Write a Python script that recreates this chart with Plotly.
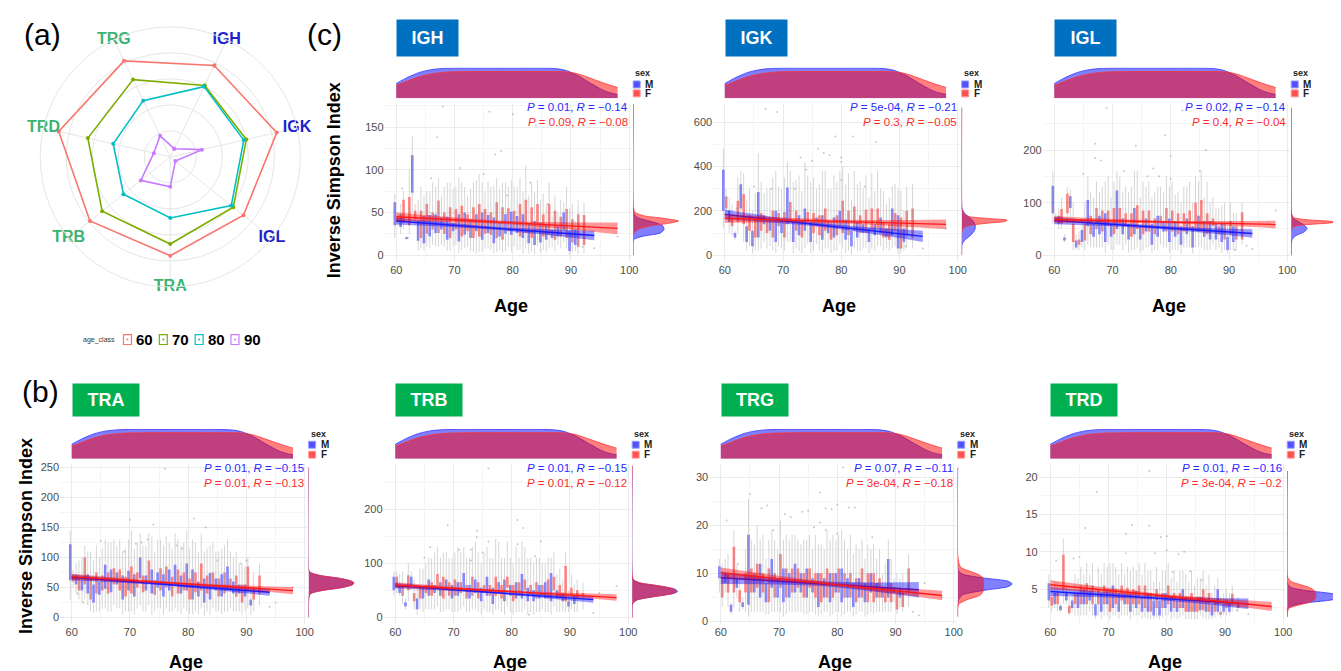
import plotly.graph_objects as go

# ======================= DATA =======================
AGES = list(range(60, 93))

# top marginal: age density (same for all panels), relative units
AGE_GRID = [60, 62, 64, 66, 68, 70, 75, 80, 85, 87, 88, 89, 90, 91, 92, 93, 94, 95, 96, 97, 98]
TOP_M = [0.49, 0.7, 0.86, 0.95, 0.99, 1.0, 1.0, 1.0, 1.0, 0.99, 0.97, 0.93, 0.86, 0.77, 0.66, 0.54, 0.43, 0.32, 0.23, 0.17, 0.13]
TOP_F = [0.43, 0.58, 0.72, 0.81, 0.86, 0.88, 0.89, 0.89, 0.89, 0.89, 0.89, 0.88, 0.86, 0.82, 0.76, 0.69, 0.62, 0.55, 0.48, 0.42, 0.36]

REG_X_M = [60, 77, 94]
REG_X_F = [60, 79, 98]

# radar (a)
RADAR_AXES = ["IGH", "IGK", "IGL", "TRA", "TRB", "TRD", "TRG"]
RADAR_LABEL_COLORS = ["#2222cc", "#2222cc", "#2222cc", "#3cb371", "#3cb371", "#3cb371", "#3cb371"]
RADAR_CLASSES = ["60", "70", "80", "90"]
RADAR_60 = [0.78, 0.84, 0.72, 0.76, 0.79, 0.88, 0.82]
RADAR_70 = [0.61, 0.60, 0.62, 0.67, 0.67, 0.65, 0.66]
RADAR_80 = [0.60, 0.58, 0.60, 0.47, 0.46, 0.45, 0.48]
RADAR_90 = [0.07, 0.25, 0.05, 0.23, 0.29, 0.13, 0.18]

PANEL_NAMES = ["IGH", "IGK", "IGL", "TRA", "TRB", "TRG", "TRD"]
STAT_P_M = ["0.01", "5e-04", "0.02", "0.01", "0.01", "0.07", "0.01"]
STAT_R_M = ["\u22120.14", "\u22120.21", "\u22120.14", "\u22120.15", "\u22120.15", "\u22120.11", "\u22120.16"]
STAT_P_F = ["0.09", "0.3", "0.4", "0.01", "0.01", "3e-04", "3e-04"]
STAT_R_F = ["\u22120.08", "\u22120.05", "\u22120.04", "\u22120.13", "\u22120.12", "\u22120.18", "\u22120.2"]

# ---- IGH ----
IGH_M_Q1 = [35,33,19,73,17,14,22,26,30,18,28,16,24,20,28,18,26,14,22,25,24,26,20,14,12,15,18,20,22,29,5,12,None]
IGH_M_Q3 = [62,48,21,117,40,46,47,48,44,45,38,48,50,42,48,50,47,44,38,48,51,46,48,38,40,38,36,30,34,50,28,30,None]
IGH_M_LO = [20,25,18,50,5,6,8,10,12,5,10,3,8,5,2,4,8,2,6,5,4,6,2,2,1,3,4,10,12,15,0,5,None]
IGH_M_HI = [72,60,22,139,65,70,75,80,70,85,78,90,80,78,88,85,86,82,78,85,88,80,75,70,74,65,60,45,50,62,55,40,None]
IGH_F_Q1 = [40,38,35,42,20,25,30,26,25,20,30,22,28,20,22,25,24,20,18,28,30,22,26,20,28,22,24,18,22,20,15,10,12]
IGH_F_Q3 = [44,65,68,52,52,60,50,64,50,56,54,58,48,56,60,54,50,62,56,55,52,60,65,56,60,48,60,52,45,54,42,48,47]
IGH_F_LO = [35,30,25,35,8,10,12,10,10,5,12,6,10,4,4,8,6,4,3,10,10,6,8,4,10,6,8,5,8,8,3,2,2]
IGH_F_HI = [48,75,100,60,80,75,85,90,80,85,80,85,70,85,95,75,80,90,85,80,80,90,105,85,88,72,85,70,65,80,60,65,62]
IGH_FIT_M = [40, 31.5, 23]
IGH_SE_M = [4, 1.8, 5.5]
IGH_FIT_F = [45, 38.2, 31.4]
IGH_SE_F = [5, 2, 7]
IGH_PTS_X = [68,76,80,84,67,78,77,75,71,66,61,83,90,98,94,92,62,86,79]
IGH_PTS_Y = [174,168,165,152,138,122,118,95,102,90,78,85,22,22,8,10,20,60,70]
IGH_RD_Y = [0, 18, 22, 26, 30, 34, 37, 40, 43, 46, 50, 56, 177]
IGH_RD_M = [0, 0.01, 0.2, 0.6, 0.68, 0.66, 0.55, 0.35, 0.15, 0.05, 0.01, 0, 0]
IGH_RD_F = [0, 0, 0, 0.02, 0.1, 0.35, 0.75, 1.0, 0.7, 0.25, 0.05, 0.005, 0]

# ---- IGK ----
IGK_M_Q1 = [200,150,80,210,60,40,80,140,110,60,100,140,60,90,110,60,130,70,100,80,130,70,40,80,100,60,90,100,80,90,30,60,None]
IGK_M_Q3 = [385,200,100,320,130,110,285,180,170,200,160,305,150,180,210,150,170,180,150,170,200,160,110,150,140,120,140,170,120,210,180,120,None]
IGK_M_LO = [120,100,70,150,20,10,20,60,40,10,30,60,10,20,30,10,50,10,30,20,50,10,5,20,30,10,20,40,30,30,5,20,None]
IGK_M_HI = [480,260,110,380,250,200,460,280,300,380,300,420,330,360,420,330,300,380,300,360,380,320,250,320,300,260,290,300,230,310,300,200,None]
IGK_F_Q1 = [210,130,150,140,110,80,110,100,80,130,80,150,110,80,150,100,90,110,70,90,100,90,110,100,100,110,120,80,70,110,30,90,80]
IGK_F_Q3 = [265,170,245,275,180,160,190,160,200,190,195,240,200,160,195,190,180,210,150,180,245,200,220,180,205,210,210,150,140,190,170,200,210]
IGK_F_LO = [180,90,100,60,40,20,30,30,20,40,20,60,30,10,50,20,20,30,10,20,30,20,30,20,30,30,40,20,20,40,10,30,30]
IGK_F_HI = [300,230,350,370,300,280,330,300,350,310,350,380,340,290,360,350,320,380,300,330,400,370,380,330,360,370,380,290,260,320,290,310,320]
IGK_FIT_M = [184, 134.5, 85]
IGK_SE_M = [22, 9, 25]
IGK_FIT_F = [166, 152.5, 139]
IGK_SE_F = [20, 8, 22]
IGK_PTS_X = [67,69,79,82,86,76,77,78,80,73,80,74,75,80,72,65,68,84,62,98,94,91]
IGK_PTS_Y = [660,645,535,535,510,480,460,450,440,440,420,385,425,340,300,310,300,310,210,120,30,40]
IGK_RD_Y = [0, 50, 70, 90, 110, 125, 135, 145, 152, 158, 165, 175, 190, 210, 240, 665]
IGK_RD_M = [0, 0.01, 0.08, 0.2, 0.28, 0.3, 0.3, 0.28, 0.26, 0.24, 0.2, 0.14, 0.06, 0.01, 0, 0]
IGK_RD_F = [0, 0, 0, 0, 0.01, 0.05, 0.2, 0.6, 0.95, 1.0, 0.6, 0.15, 0.03, 0.005, 0, 0]

# ---- IGL ----
IGL_M_Q1 = [80,60,28,90,15,25,55,35,40,25,35,50,40,30,40,30,45,20,35,45,25,35,20,40,15,45,35,30,30,25,10,25,None]
IGL_M_Q3 = [132,75,34,112,28,48,105,60,75,80,60,123,70,60,90,55,70,60,75,65,70,65,55,70,55,75,65,65,60,60,35,55,None]
IGL_M_LO = [60,50,25,70,10,15,20,15,15,5,10,20,10,5,10,5,15,5,10,15,5,10,3,15,3,15,10,10,10,5,3,10,None]
IGL_M_HI = [160,90,40,125,40,70,150,110,120,140,110,160,120,120,160,110,130,110,130,120,130,115,100,130,100,140,110,100,90,95,60,80,None]
IGL_F_Q1 = [68,60,80,25,20,28,40,50,45,55,40,60,55,35,50,40,45,40,55,45,45,40,45,50,50,45,40,55,40,30,40,30,30]
IGL_F_Q3 = [72,88,117,60,30,60,75,90,85,85,90,90,80,80,95,85,85,70,75,90,85,80,80,85,100,105,80,70,55,60,65,55,82]
IGL_F_LO = [60,50,60,10,10,10,15,15,15,20,10,20,20,10,15,10,15,10,20,15,10,10,15,15,15,15,10,20,15,10,10,10,20]
IGL_F_HI = [80,110,130,100,45,100,120,140,130,150,140,150,130,130,160,140,140,120,130,150,140,120,130,140,150,160,140,110,90,100,100,80,100]
IGL_FIT_M = [66, 53.8, 41.5]
IGL_SE_M = [7, 3, 8]
IGL_FIT_F = [68, 63.2, 58.5]
IGL_SE_F = [6, 2.5, 7]
IGL_PTS_X = [69,82,67,74,79,86,80,67,68,72,85,78,76,80,77,65,98,94,91,93]
IGL_PTS_Y = [280,275,212,208,228,200,188,185,180,160,160,150,150,145,165,155,85,12,10,18]
IGL_RD_Y = [0, 30, 38, 44, 50, 55, 58, 61, 63, 65, 68, 72, 78, 90, 280]
IGL_RD_M = [0, 0.02, 0.12, 0.28, 0.35, 0.32, 0.28, 0.22, 0.18, 0.14, 0.08, 0.03, 0.01, 0, 0]
IGL_RD_F = [0, 0, 0, 0, 0.01, 0.08, 0.3, 0.8, 1.0, 0.8, 0.3, 0.05, 0.01, 0, 0]

# ---- TRA ----
TRA_M_Q1 = [62,55,45,40,25,38,48,42,55,30,45,35,65,45,40,50,35,45,55,40,45,30,35,25,30,45,35,45,40,40,35,20,None]
TRA_M_Q3 = [122,70,62,72,55,60,88,80,75,70,78,72,100,70,80,75,72,80,88,70,90,80,60,65,74,65,72,85,60,55,55,30,None]
TRA_M_LO = [30,40,25,20,8,10,15,10,15,5,10,5,20,10,5,15,5,10,15,5,10,5,5,3,5,10,5,10,10,10,10,5,None]
TRA_M_HI = [145,90,100,110,95,100,130,125,120,110,130,115,140,120,135,130,120,125,140,120,145,130,110,110,120,110,115,130,100,90,85,50,None]
TRA_F_Q1 = [60,45,55,30,40,45,40,55,45,35,40,50,42,60,38,45,50,35,40,45,30,42,45,40,50,35,40,45,35,25,45,30,40]
TRA_F_Q3 = [68,65,100,65,75,70,75,82,80,68,85,75,70,95,62,82,85,68,80,75,65,75,90,70,75,65,75,65,70,55,85,50,70]
TRA_F_LO = [50,30,30,10,10,15,10,20,15,10,10,15,10,20,10,15,15,10,10,15,5,10,15,10,15,10,10,15,10,5,15,10,20]
TRA_F_HI = [80,95,120,110,120,115,125,130,130,115,145,125,120,140,110,130,135,115,130,125,115,125,140,115,125,110,120,110,110,90,100,75,90]
TRA_FIT_M = [67, 54.5, 42]
TRA_SE_M = [5, 2, 6]
TRA_FIT_F = [68, 56.4, 44.7]
TRA_SE_F = [5, 2, 6]
TRA_PTS_X = [76,70,81,83,74,72,71,73,78,79,69,65,85,89,90,62,61,94,95,98]
TRA_PTS_Y = [248,163,165,150,155,125,123,130,120,115,110,128,95,90,95,25,40,18,25,50]
TRA_RD_Y = [0, 35, 40, 45, 50, 55, 58, 61, 65, 70, 75, 80, 250]
TRA_RD_M = [0, 0.01, 0.05, 0.3, 0.75, 0.97, 0.98, 0.92, 0.7, 0.25, 0.04, 0, 0]
TRA_RD_F = [0, 0.01, 0.05, 0.3, 0.75, 0.98, 1.0, 0.93, 0.7, 0.25, 0.04, 0, 0]

# ---- TRB ----
TRB_M_Q1 = [50,45,20,60,15,35,40,45,40,50,35,40,55,35,45,30,40,25,45,30,40,35,35,30,30,35,35,30,35,30,20,25,None]
TRB_M_Q3 = [75,60,28,75,35,55,70,60,65,70,60,65,82,60,70,55,75,55,65,70,60,65,80,55,50,60,65,82,50,45,30,40,None]
TRB_M_LO = [40,40,15,50,5,10,15,15,10,15,10,10,20,10,15,5,10,5,15,5,10,10,10,5,5,10,10,5,10,10,10,10,None]
TRB_M_HI = [85,80,35,85,60,90,110,120,110,120,110,130,130,110,140,100,130,110,140,110,110,130,140,110,100,110,100,110,80,70,50,60,None]
TRB_F_Q1 = [55,40,50,30,35,45,40,55,35,40,40,45,35,40,35,45,40,40,35,55,30,40,50,40,35,40,35,50,35,30,40,35,40]
TRB_F_Q3 = [75,60,78,45,55,60,65,80,75,65,70,65,60,75,65,60,60,75,60,75,60,65,70,60,65,60,70,75,60,95,55,50,45]
TRB_F_LO = [45,25,30,15,15,15,15,20,10,15,10,15,10,15,10,15,10,15,10,20,5,10,15,10,10,15,10,20,10,10,15,10,15]
TRB_F_HI = [85,85,100,70,90,100,110,130,120,110,120,120,110,130,120,120,110,145,110,140,100,110,130,110,110,100,110,120,90,120,80,70,65]
TRB_FIT_M = [58.7, 46, 33]
TRB_SE_M = [5, 2, 6]
TRB_FIT_F = [60, 48.3, 36.7]
TRB_SE_F = [5, 2, 6]
TRB_PTS_X = [76,69,81,82,74,74,71,73,76,75,81,85,66,65,84,98,95,94,83,73]
TRB_PTS_Y = [275,170,180,165,160,148,125,125,140,120,135,140,130,110,113,58,45,8,5,105]
TRB_RD_Y = [0, 25, 32, 38, 44, 48, 52, 56, 60, 64, 70, 80, 280]
TRB_RD_M = [0, 0.01, 0.1, 0.45, 0.9, 1.0, 0.95, 0.75, 0.45, 0.15, 0.02, 0, 0]
TRB_RD_F = [0, 0.01, 0.1, 0.45, 0.88, 0.97, 0.93, 0.75, 0.47, 0.17, 0.03, 0, 0]

# ---- TRG ----
TRG_M_Q1 = [9,8,2,7,3,3.5,6,5,4,7,5,4,5,6,6,5,6,3,5,4,6,4,5,3,5,4,6,5,5,5,6,5,None]
TRG_M_Q3 = [11.5,10,3.5,9,4,18,10,12,8,13,9,11,10,12,10,11,9,10,9,10,10,11,9,8,9,8,10,8,7,13,7,7,None]
TRG_M_LO = [6,6,1.5,5,2.5,1,2,2,1.5,2,2,1,2,2,2,1.5,2,1,2,1,2,1,2,1,2,1,2,2,2,2,4,3,None]
TRG_M_HI = [13,13,4,12,5,25.5,16,17,13,19,15,17,17,18,16,17,15,16,15,17,17,19,15,14,15,13,15,13,10,17,9,9,None]
TRG_F_Q1 = [5,6,6,4,6,6,7,6,4,5,7,5,6,7,5,7,5,4,5,5,6,5,5,4,5,4,4,5,4,4,2.5,3,6]
TRG_F_Q3 = [9,10,15.5,6.5,10,11,12,10,11,10,14,11,11,11,10,11,10,10,11,10,11,10,10,9,11,10,10,9,7,8,6,6,11]
TRG_F_LO = [3,3,3,2,2,2,2,2,1.5,2,2,1.5,2,2,1.5,2,1.5,1.5,2,1.5,2,1.5,2,1.5,2,1.5,1.5,2,2,2,1.5,2,3]
TRG_F_HI = [12,14,19,10,15,17,20,18,17,17,21,18,18,17,17,18,18,16,19,18,18,17,18,16,17,16,16,15,12,13,10,10,14]
TRG_FIT_M = [9.1, 7.85, 6.6]
TRG_SE_M = [1.3, 0.5, 1.6]
TRG_FIT_F = [10.1, 7.75, 5.4]
TRG_SE_F = [1.1, 0.4, 1.0]
TRG_PTS_X = [81,77,65,80,82,83,78,79,68,67,74,75,71,72,77,76,78,80,61,63,69,86,98,95,93,94]
TRG_PTS_Y = [32,26.8,26.5,24.3,23.7,23.7,23.5,23.3,24.1,23.5,22.8,23,22.3,21.7,20.5,19.6,19,18.3,21,12,19,17.5,5,8,2,1.3]
TRG_RD_Y = [1, 3.5, 4.5, 5.5, 6.5, 7.2, 7.8, 8.4, 9, 9.8, 10.5, 11.5, 32]
TRG_RD_M = [0, 0, 0.02, 0.1, 0.6, 1.1, 1.2, 1.1, 0.6, 0.12, 0.02, 0, 0]
TRG_RD_F = [0, 0.02, 0.2, 0.5, 0.57, 0.57, 0.57, 0.57, 0.56, 0.45, 0.25, 0.05, 0]

# ---- TRD ----
TRD_M_Q1 = [3.5,3,2.2,3.5,2.5,2.5,3,3.5,1.5,2,3,2.5,2,3,2,2.5,2,2,1.5,1.5,2.5,2,2,2.5,2,2,2.2,2,1.5,2,2,2,None]
TRD_M_Q3 = [5.8,4.5,2.8,4.5,3.5,4.5,5,4.8,3,4.5,5,5.5,4.5,4.5,4.5,4.8,4,4.5,3.5,3.5,4.5,4,3.5,5,3.5,3.5,4,3.5,3,5,3,3.2,None]
TRD_M_LO = [2.5,2.5,2,3,2,1.5,1.5,2,1,1,1.5,1.5,1,1.5,1,1.5,1,1,1,1,1.5,1,1,1.5,1,1,1.5,1,1,1.5,1.5,1.5,None]
TRD_M_HI = [7,6,3,5.5,4.5,6.5,7,7,5,7,8,8.5,7,7,7.5,7.5,7,7.5,6,6,7.5,6.5,6,7.5,6,5.5,6.5,5.5,4.5,6.5,4.5,4.5,None]
TRD_F_Q1 = [2.8,3,5,1.8,3,3,3,3,3,3,2,3,3.5,3,3,3,2.5,2,2.5,2.5,3,2.5,2.5,2,2,2,2.2,2,2,1.6,2.5,3,2.5]
TRD_F_Q3 = [4,4.5,9.6,2.8,4.5,5.5,5.8,5.5,5,5.5,5,5,5.5,5.2,5,5.5,5.5,4.5,5,4.5,5.5,4.5,4.5,4,4.5,4,5,4.5,3.5,2,3.5,4.4,3]
TRD_F_LO = [2,2,3,1.5,1.5,1.5,1.5,1.5,1.5,1.5,1,1.5,1.5,1.5,1.5,1.5,1.2,1,1.2,1.2,1.5,1.2,1.2,1,1,1,1.2,1,1.2,1.2,1.5,2,2]
TRD_F_HI = [5,6,11.8,4,7,8,8.5,8.5,8,8.5,8.5,8,8.5,8,8,8.5,8.5,7.5,8,7.5,8.5,7.5,7.5,7,7.5,6.5,7.5,7,5.5,4,5,5.5,4]
TRD_FIT_M = [4.7, 3.9, 3.05]
TRD_SE_M = [0.6, 0.25, 0.7]
TRD_FIT_F = [5.6, 4.15, 2.7]
TRD_SE_F = [0.6, 0.25, 0.6]
TRD_PTS_X = [77,68,74,77,73,79,80,66,73,78,80,82,83,65,64,84,86,61,81,98,94,92]
TRD_PTS_Y = [20.8,18,13.6,13.5,12.4,12,12.1,13.2,9.8,9.8,10.2,9.7,10,9.3,9.1,7.4,6.2,8.8,7.3,2.5,1.7,2.2]
TRD_RD_Y = [1.3, 2.4, 2.8, 3.2, 3.6, 4.0, 4.4, 4.8, 5.2, 5.6, 6.0, 6.6, 20.8]
TRD_RD_M = [0, 0.01, 0.1, 0.45, 1.0, 1.18, 1.0, 0.45, 0.1, 0.02, 0, 0, 0]
TRD_RD_F = [0, 0.03, 0.2, 0.45, 0.6, 0.63, 0.63, 0.6, 0.5, 0.3, 0.1, 0.01, 0]

PANEL_DATA = {
    "IGH": dict(mq1=IGH_M_Q1, mq3=IGH_M_Q3, mlo=IGH_M_LO, mhi=IGH_M_HI, fq1=IGH_F_Q1, fq3=IGH_F_Q3, flo=IGH_F_LO, fhi=IGH_F_HI,
                fitm=IGH_FIT_M, sem=IGH_SE_M, fitf=IGH_FIT_F, sef=IGH_SE_F, px=IGH_PTS_X, py=IGH_PTS_Y, rdy=IGH_RD_Y, rdm=IGH_RD_M, rdf=IGH_RD_F),
    "IGK": dict(mq1=IGK_M_Q1, mq3=IGK_M_Q3, mlo=IGK_M_LO, mhi=IGK_M_HI, fq1=IGK_F_Q1, fq3=IGK_F_Q3, flo=IGK_F_LO, fhi=IGK_F_HI,
                fitm=IGK_FIT_M, sem=IGK_SE_M, fitf=IGK_FIT_F, sef=IGK_SE_F, px=IGK_PTS_X, py=IGK_PTS_Y, rdy=IGK_RD_Y, rdm=IGK_RD_M, rdf=IGK_RD_F),
    "IGL": dict(mq1=IGL_M_Q1, mq3=IGL_M_Q3, mlo=IGL_M_LO, mhi=IGL_M_HI, fq1=IGL_F_Q1, fq3=IGL_F_Q3, flo=IGL_F_LO, fhi=IGL_F_HI,
                fitm=IGL_FIT_M, sem=IGL_SE_M, fitf=IGL_FIT_F, sef=IGL_SE_F, px=IGL_PTS_X, py=IGL_PTS_Y, rdy=IGL_RD_Y, rdm=IGL_RD_M, rdf=IGL_RD_F),
    "TRA": dict(mq1=TRA_M_Q1, mq3=TRA_M_Q3, mlo=TRA_M_LO, mhi=TRA_M_HI, fq1=TRA_F_Q1, fq3=TRA_F_Q3, flo=TRA_F_LO, fhi=TRA_F_HI,
                fitm=TRA_FIT_M, sem=TRA_SE_M, fitf=TRA_FIT_F, sef=TRA_SE_F, px=TRA_PTS_X, py=TRA_PTS_Y, rdy=TRA_RD_Y, rdm=TRA_RD_M, rdf=TRA_RD_F),
    "TRB": dict(mq1=TRB_M_Q1, mq3=TRB_M_Q3, mlo=TRB_M_LO, mhi=TRB_M_HI, fq1=TRB_F_Q1, fq3=TRB_F_Q3, flo=TRB_F_LO, fhi=TRB_F_HI,
                fitm=TRB_FIT_M, sem=TRB_SE_M, fitf=TRB_FIT_F, sef=TRB_SE_F, px=TRB_PTS_X, py=TRB_PTS_Y, rdy=TRB_RD_Y, rdm=TRB_RD_M, rdf=TRB_RD_F),
    "TRG": dict(mq1=TRG_M_Q1, mq3=TRG_M_Q3, mlo=TRG_M_LO, mhi=TRG_M_HI, fq1=TRG_F_Q1, fq3=TRG_F_Q3, flo=TRG_F_LO, fhi=TRG_F_HI,
                fitm=TRG_FIT_M, sem=TRG_SE_M, fitf=TRG_FIT_F, sef=TRG_SE_F, px=TRG_PTS_X, py=TRG_PTS_Y, rdy=TRG_RD_Y, rdm=TRG_RD_M, rdf=TRG_RD_F),
    "TRD": dict(mq1=TRD_M_Q1, mq3=TRD_M_Q3, mlo=TRD_M_LO, mhi=TRD_M_HI, fq1=TRD_F_Q1, fq3=TRD_F_Q3, flo=TRD_F_LO, fhi=TRD_F_HI,
                fitm=TRD_FIT_M, sem=TRD_SE_M, fitf=TRD_FIT_F, sef=TRD_SE_F, px=TRD_PTS_X, py=TRD_PTS_Y, rdy=TRD_RD_Y, rdm=TRD_RD_M, rdf=TRD_RD_F),
}

# ======================= LAYOUT / STYLE =======================
W, H = 1341, 671
FONT = "Liberation Sans, Arial, Helvetica, sans-serif"
S = 5.85                 # px per year
XR = [58, 100.5]
RD_PX = 57               # width of right marginal
RD_UNIT = 45.6           # px per density unit
GRID = "#ebebeb"
MINOR = "#f5f5f5"
TICKC = "#4d4d4d"
IG_BLUE = "#0070C0"
TR_GREEN = "#00B050"

PANEL_LAYOUT = {
    "IGH": dict(x0=390, row=0, yr=[-8.1, 176.7], dt=50, badge=IG_BLUE),
    "IGK": dict(x0=720, row=0, yr=[-31, 680], dt=200, badge=IG_BLUE),
    "IGL": dict(x0=1051, row=0, yr=[-13, 287], dt=100, badge=IG_BLUE),
    "TRA": dict(x0=64, row=1, yr=[-11.6, 256.6], dt=50, badge=TR_GREEN),
    "TRB": dict(x0=389, row=1, yr=[-12.8, 284], dt=100, badge=TR_GREEN),
    "TRG": dict(x0=716, row=1, yr=[-0.6, 32.8], dt=10, badge=TR_GREEN),
    "TRD": dict(x0=1047, row=1, yr=[0.3, 21.8], dt=5, badge=TR_GREEN),
}
ROWS = [
    dict(main=(95, 254), top=(58, 89), badge_y=28, badge_h=36, stat_y=(98, 112.5), sex_y=(63, 75, 84), age_y=298),
    dict(main=(457, 619), top=(422, 452), badge_y=393, badge_h=32, stat_y=(461, 477), sex_y=(427, 438, 448), age_y=657),
]


def fx(p):
    return p / W


def fy(p):
    return 1 - p / H


def ann(x, y, text, size, color="black", xanchor="center", yanchor="middle", angle=0, **kw):
    d = dict(x=fx(x), y=fy(y), xref="paper", yref="paper", text=text, showarrow=False,
             font=dict(family=FONT, size=size, color=color), xanchor=xanchor, yanchor=yanchor,
             textangle=angle)
    d.update(kw)
    return d


fig = go.Figure()
layout = dict(
    width=W, height=H, margin=dict(l=0, r=0, t=0, b=0),
    paper_bgcolor="white", plot_bgcolor="white", barmode="overlay",
    font=dict(family=FONT), showlegend=False,
)
annotations = []
shapes = []


def axname(n, a):
    return a if n == 1 else f"{a}{n}"


def laykey(n, a):
    return f"{a}axis" if n == 1 else f"{a}axis{n}"


for k, name in enumerate(PANEL_NAMES):
    d = PANEL_DATA[name]
    pl = PANEL_LAYOUT[name]
    rw = ROWS[pl["row"]]
    x0 = pl["x0"]
    nm, nt, nr = 3 * k + 1, 3 * k + 2, 3 * k + 3
    xm, ym = axname(nm, "x"), axname(nm, "y")
    xt, yt = axname(nt, "x"), axname(nt, "y")
    xr, yr = axname(nr, "x"), axname(nr, "y")

    left_px = x0 - (60 - XR[0]) * S
    right_px = x0 + (XR[1] - 60) * S
    rd_right = min(right_px + 1 + RD_PX, W)
    main_dom_x = [fx(left_px), fx(right_px)]
    main_dom_y = [fy(rw["main"][1]), fy(rw["main"][0])]

    axstyle = dict(showgrid=True, gridcolor=GRID, gridwidth=1, zeroline=False, showline=False,
                   ticks="", tickfont=dict(family=FONT, size=11, color=TICKC))
    layout[laykey(nm, "x")] = dict(domain=main_dom_x, range=XR, anchor=ym, tickmode="linear", tick0=60, dtick=10,
                                   minor=dict(showgrid=True, gridcolor=MINOR, dtick=5, tick0=60), **axstyle)
    layout[laykey(nm, "y")] = dict(domain=main_dom_y, range=pl["yr"], anchor=xm, tickmode="linear", tick0=0,
                                   dtick=pl["dt"], minor=dict(showgrid=True, gridcolor=MINOR, dtick=pl["dt"] / 2, tick0=0),
                                   **axstyle)
    layout[laykey(nt, "x")] = dict(domain=main_dom_x, matches=xm, anchor=yt, visible=False)
    layout[laykey(nt, "y")] = dict(domain=[fy(rw["top"][1]), fy(rw["top"][0])], range=[0, 1.02], anchor=xt, visible=False)
    layout[laykey(nr, "x")] = dict(domain=[fx(right_px + 1), fx(rd_right)],
                                   range=[0, (rd_right - right_px - 1) / RD_UNIT], anchor=yr, visible=False)
    layout[laykey(nr, "y")] = dict(domain=main_dom_y, matches=ym, anchor=xr, visible=False)

    # whiskers (gray)
    for lo, hi, shift in ((d["mlo"], d["mhi"], -0.24), (d["flo"], d["fhi"], 0.24)):
        span = [None if l is None else h - l for l, h in zip(lo, hi)]
        fig.add_trace(go.Scatter(
            x=[a + shift for a in AGES], y=lo, mode="markers", marker=dict(size=1, opacity=0),
            error_y=dict(type="data", symmetric=False, array=span, arrayminus=[0] * len(span),
                         color="rgba(165,165,165,0.5)", thickness=0.9, width=0),
            xaxis=xm, yaxis=ym, showlegend=False, hoverinfo="skip"))

    # boxes
    for q1, q3, off, col in ((d["mq1"], d["mq3"], -0.47, "rgba(0,0,255,0.5)"),
                             (d["fq1"], d["fq3"], 0.03, "rgba(255,0,0,0.5)")):
        hts = [None if a is None else b - a for a, b in zip(q1, q3)]
        fig.add_trace(go.Bar(x=AGES, y=hts, base=q1, width=0.44, offset=off,
                             marker=dict(color=col, line=dict(width=0)),
                             xaxis=xm, yaxis=ym, showlegend=False, hoverinfo="skip"))

    # outlier points
    fig.add_trace(go.Scatter(x=d["px"], y=d["py"], mode="markers",
                             marker=dict(size=2, color="rgba(120,120,120,0.4)"),
                             xaxis=xm, yaxis=ym, showlegend=False, hoverinfo="skip"))

    # regression lines with confidence bands
    for rx, fit, se, lc, fc in ((REG_X_M, d["fitm"], d["sem"], "#1a1aff", "rgba(0,0,255,0.4)"),
                                (REG_X_F, d["fitf"], d["sef"], "#ff1a1a", "rgba(255,0,0,0.4)")):
        lower = [f - s for f, s in zip(fit, se)]
        upper = [f + s for f, s in zip(fit, se)]
        fig.add_trace(go.Scatter(x=rx, y=lower, mode="lines", line=dict(width=0, shape="spline"),
                                 xaxis=xm, yaxis=ym, showlegend=False, hoverinfo="skip"))
        fig.add_trace(go.Scatter(x=rx, y=upper, mode="lines", line=dict(width=0, shape="spline"),
                                 fill="tonexty", fillcolor=fc,
                                 xaxis=xm, yaxis=ym, showlegend=False, hoverinfo="skip"))
        fig.add_trace(go.Scatter(x=rx, y=fit, mode="lines", line=dict(color=lc, width=1.4),
                                 xaxis=xm, yaxis=ym, showlegend=False, hoverinfo="skip"))

    # top marginal density (age)
    for dens, lc, fc in ((TOP_M, "#3333ff", "rgba(0,0,255,0.5)"), (TOP_F, "#ff3333", "rgba(255,0,0,0.5)")):
        fig.add_trace(go.Scatter(x=AGE_GRID, y=dens, mode="lines", fill="tozeroy", fillcolor=fc,
                                 line=dict(color=lc, width=0.8, shape="spline", smoothing=0.8),
                                 xaxis=xt, yaxis=yt, showlegend=False, hoverinfo="skip"))

    # right marginal density (index)
    for dens, lc, fc in ((d["rdm"], "#3333ff", "rgba(0,0,255,0.5)"), (d["rdf"], "#ff3333", "rgba(255,0,0,0.5)")):
        fig.add_trace(go.Scatter(x=dens, y=d["rdy"], mode="lines", fill="tozerox", fillcolor=fc,
                                 line=dict(color=lc, width=0.8, shape="spline", smoothing=0.7),
                                 xaxis=xr, yaxis=yr, showlegend=False, hoverinfo="skip"))

    # badge
    bw = 61 if pl["row"] == 0 else 66
    annotations.append(ann(x0 + 1 + bw / 2, rw["badge_y"], f"<b>{name}</b>", 18, color="white",
                           bgcolor=pl["badge"], width=bw, height=rw["badge_h"], borderpad=0))
    # stats
    annotations.append(ann(x0 + 235, rw["stat_y"][0],
                           f"<i>P</i> = {STAT_P_M[k]}, <i>R</i> = {STAT_R_M[k]}", 11.5,
                           color="#2a2aff", xanchor="right"))
    annotations.append(ann(x0 + 235, rw["stat_y"][1],
                           f"<i>P</i> = {STAT_P_F[k]}, <i>R</i> = {STAT_R_F[k]}", 11.5,
                           color="#ff2a2a", xanchor="right"))
    # sex legend
    lx = x0 + 238
    annotations.append(ann(lx, rw["sex_y"][0], "<b>sex</b>", 9, color="#222222", xanchor="left"))
    for yc, lab, fc, lc in ((rw["sex_y"][1], "M", "#5050ff", "#9a9aff"), (rw["sex_y"][2], "F", "#ff5050", "#ff9a9a")):
        shapes.append(dict(type="rect", xref="paper", yref="paper", x0=fx(lx), x1=fx(lx + 7),
                           y0=fy(yc + 3.5), y1=fy(yc - 3.5), fillcolor=fc, line=dict(color=lc, width=1)))
        annotations.append(ann(lx + 10, yc, f"<b>{lab}</b>", 10, color="#222222", xanchor="left"))
    # x title
    annotations.append(ann(x0 + 115, rw["age_y"], "<b>Age</b>", 18))

# y titles
annotations.append(ann(327, 172, "<b>Inverse Simpson Index</b>", 18, angle=-90))
annotations.append(ann(18, 530, "<b>Inverse Simpson Index</b>", 18, angle=-90))
# panel tags
annotations.append(ann(35, 25, "(a)", 30))
annotations.append(ann(318, 25, "(c)", 30))
annotations.append(ann(33, 384, "(b)", 30))

# ---------------- radar chart (a) ----------------
RADAR_COLORS = ["#F8766D", "#7CAE00", "#00BFC4", "#C77CFF"]
for cls, vals, col in zip(RADAR_CLASSES, (RADAR_60, RADAR_70, RADAR_80, RADAR_90), RADAR_COLORS):
    fig.add_trace(go.Scatterpolar(
        r=vals + vals[:1], theta=RADAR_AXES + RADAR_AXES[:1], mode="lines+markers", name=cls,
        line=dict(color=col, width=1.6), marker=dict(color=col, size=4), hoverinfo="skip"))
fig.add_trace(go.Scatterpolar(
    r=[1.0] * len(RADAR_AXES), theta=RADAR_AXES, mode="text",
    text=[f"<b>{a}</b>" for a in RADAR_AXES],
    textfont=dict(family=FONT, size=16, color=RADAR_LABEL_COLORS),
    cliponaxis=False, showlegend=False, hoverinfo="skip"))

RC_X, RC_Y, RR = 163, 148, 131
layout["polar"] = dict(
    domain=dict(x=[fx(RC_X - RR), fx(RC_X + RR)], y=[fy(RC_Y + RR), fy(RC_Y - RR)]),
    bgcolor="white",
    radialaxis=dict(range=[0, 1], tickvals=[0.2, 0.4, 0.6, 0.8, 1.0], showticklabels=False, ticks="",
                    showline=False, gridcolor="#e6e6e6", gridwidth=1),
    angularaxis=dict(direction="clockwise", rotation=90 - 360 / 14, categoryorder="array",
                     categoryarray=RADAR_AXES, showticklabels=False, ticks="", showline=True,
                     linecolor="#e6e6e6", gridcolor="#e6e6e6"),
)

# radar legend (age_class), compact keys like ggplot
LEG_Y = 332
annotations.append(ann(73, LEG_Y, "age_class", 7, color="#333333", xanchor="left"))
for i, (cls, col) in enumerate(zip(RADAR_CLASSES, RADAR_COLORS)):
    kx = 116 + 36 * i
    shapes.append(dict(type="rect", xref="paper", yref="paper", x0=fx(kx), x1=fx(kx + 8),
                       y0=fy(LEG_Y + 5), y1=fy(LEG_Y - 5), fillcolor="white", line=dict(color=col, width=1.2)))
    shapes.append(dict(type="circle", xref="paper", yref="paper", x0=fx(kx + 3), x1=fx(kx + 5),
                       y0=fy(LEG_Y + 1), y1=fy(LEG_Y - 1), fillcolor=col, line=dict(width=0)))
    annotations.append(ann(kx + 11, LEG_Y, f"<b>{cls}</b>", 15, color="black", xanchor="left"))

layout["annotations"] = annotations
layout["shapes"] = shapes
fig.update_layout(**layout)
fig.write_html("out.html")
